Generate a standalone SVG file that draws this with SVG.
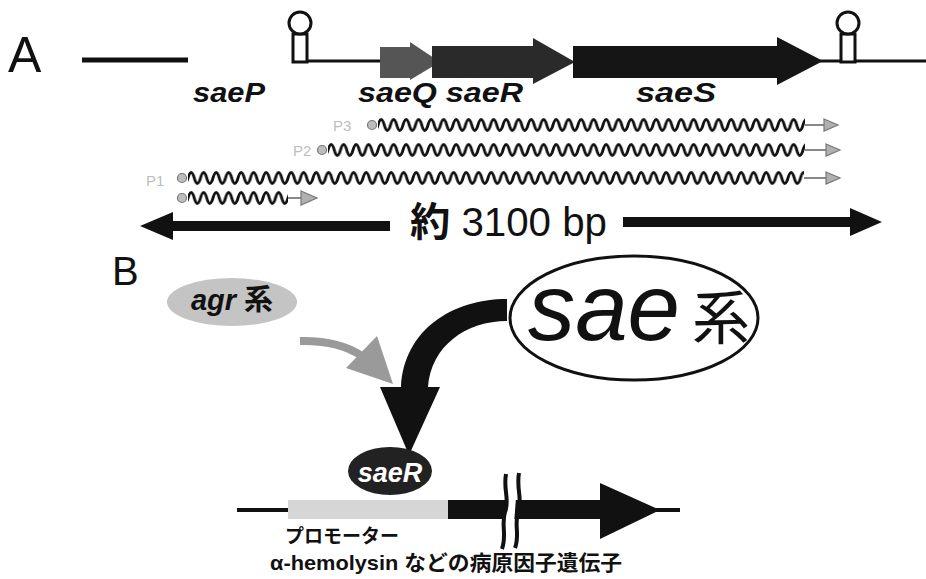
<svg xmlns="http://www.w3.org/2000/svg" width="926" height="579" viewBox="0 0 926 579">
<style>
.lbl{font-family:"Liberation Sans",Arial,sans-serif;}
.gene{font-family:"Liberation Sans",Arial,sans-serif;font-weight:bold;font-style:italic;font-size:27px;fill:#111;}
.cjk{font-family:"Liberation Sans","Noto Sans CJK JP",sans-serif;font-weight:bold;}
.pl{font-family:"Liberation Sans",Arial,sans-serif;font-size:15px;fill:#bdbdbd;}
.dna{stroke:#111;fill:none;}
.term{stroke:#111;stroke-width:3;fill:#fff;}
.tip{fill:#b0b0b0;stroke:#777;stroke-width:1.2;}
.dot{fill:#bdbdbd;stroke:#777;stroke-width:1.2;}
.tl{stroke:#888;stroke-width:2;}
</style>
<defs>
<pattern id="wv" width="12.5" height="14" patternUnits="userSpaceOnUse">
<path d="M-6.25 7 Q-3.125 18 0 7 Q3.125 -4 6.25 7 Q9.375 18 12.5 7 Q15.625 -4 18.75 7" fill="none" stroke="#111" stroke-width="2.8"/>
</pattern>
</defs>
<rect width="926" height="579" fill="#fff"/>

<!-- Panel A -->
<g id="panelA">
<text class="lbl" x="8" y="72" font-size="50" fill="#111">A</text>
<line class="dna" x1="82" y1="60" x2="188" y2="60" stroke-width="5"/>
<line class="dna" x1="300" y1="61" x2="382" y2="61" stroke-width="3"/>
<line class="dna" x1="820" y1="61" x2="926" y2="61" stroke-width="3"/>
<g id="term1">
<rect class="term" x="293" y="34" width="14" height="28"/>
<circle class="term" cx="300" cy="23" r="11"/>
</g>
<g id="term2">
<rect class="term" x="841" y="34" width="14" height="28"/>
<circle class="term" cx="848" cy="23" r="11"/>
</g>
<g id="saeQ"><polygon points="380,47 410,47 410,42 440,62 410,80 410,78 380,78" fill="#555"/></g>
<g id="saeR"><polygon points="432,46 533,46 533,38 575,62 533,84 533,78 432,78" fill="#2a2a2a"/></g>
<g id="saeS"><polygon points="573,46 777,46 777,37 823,61 777,85 777,78 573,78" fill="#151515"/></g>
<text class="gene" x="193" y="102" textLength="72" lengthAdjust="spacingAndGlyphs">saeP</text>
<text class="gene" x="358" y="102" textLength="165" lengthAdjust="spacingAndGlyphs">saeQ saeR</text>
<text class="gene" x="636" y="102" textLength="80" lengthAdjust="spacingAndGlyphs">saeS</text>

<!-- transcripts -->
<g id="P3">
<text class="pl" x="333" y="131">P3</text>
<circle class="dot" cx="372" cy="125" r="4.5"/>
<g transform="translate(378,118)"><rect width="427" height="14" fill="url(#wv)"/></g>
<line class="tl" x1="805" y1="125" x2="826" y2="125"/>
<polygon class="tip" points="824,119 838,125 824,131"/>
</g>
<g id="P2">
<text class="pl" x="293" y="156">P2</text>
<circle class="dot" cx="322" cy="150" r="4.5"/>
<g transform="translate(328,143)"><rect width="477" height="14" fill="url(#wv)"/></g>
<line class="tl" x1="805" y1="150" x2="828" y2="150"/>
<polygon class="tip" points="826,144 840,150 826,156"/>
</g>
<g id="P1">
<text class="pl" x="146" y="186" font-size="13">P1</text>
<circle class="dot" cx="182" cy="178" r="4.5"/>
<circle class="dot" cx="182" cy="198" r="4.5"/>
<g transform="translate(188,171)"><rect width="616" height="14" fill="url(#wv)"/></g>
<line class="tl" x1="804" y1="178" x2="828" y2="178"/>
<polygon class="tip" points="826,172 840,178 826,184"/>
<g transform="translate(188,191)"><rect width="100" height="14" fill="url(#wv)"/></g>
<line class="tl" x1="288" y1="198" x2="305" y2="198"/>
<polygon class="tip" points="301,191 317,198 301,205"/>
</g>

<g id="length">
<polygon points="140,226 173,212 173,221 390,221 390,231 173,231 173,240" fill="#111"/>
<polygon points="623,217 850,217 850,208 882,222 850,236 850,227 623,227" fill="#111"/>
<text x="410" y="236" font-size="40" fill="#111" font-family="'Liberation Sans','Noto Sans CJK JP',sans-serif" textLength="197" lengthAdjust="spacingAndGlyphs"><tspan font-weight="bold">約</tspan> 3100 bp</text>
</g>
</g>

<!-- Panel B -->
<g id="panelB">
<text class="lbl" x="112" y="285" font-size="40" fill="#111">B</text>

<g id="agr">
<ellipse cx="232" cy="302" rx="65" ry="24" fill="#c4c4c4"/>
<text class="cjk" x="232" y="310" font-size="29" text-anchor="middle" fill="#111"><tspan font-style="italic">agr</tspan> 系</text>
</g>

<g id="sae">
<ellipse cx="634" cy="318" rx="124" ry="62" fill="#fff" stroke="#111" stroke-width="3"/>
<text class="lbl" x="528" y="340" font-size="95" font-style="italic" fill="#111" textLength="152" lengthAdjust="spacingAndGlyphs">sae</text>
<text x="692" y="339" font-size="58" fill="#111" font-family="'Noto Sans CJK JP',sans-serif">系</text>
</g>

<g id="connectors">
<path d="M300 341 Q338 340 362 356" fill="none" stroke="#9a9a9a" stroke-width="8"/>
<polygon points="377,336 346,368 393,384" fill="#9a9a9a"/>
<path d="M507 299 C452 299 404 330 401 387 L380 387 L409 455 L440 387 L428 387 C431 346 466 321 507 321 Z" fill="#111"/>
</g>

<g id="gene">
<line class="dna" x1="237" y1="510" x2="680" y2="510" stroke-width="4"/>
<rect id="promoter" x="288" y="500" width="160" height="19" fill="#d6d6d6"/>
<polygon points="448,500 600,500 600,483 660,510 600,539 600,519 448,519" fill="#111"/>
<polygon points="509,472 518,472 512,550 503,550" fill="#fff"/>
<path d="M506 474 C503 490 510 500 505 512 C501 525 507 535 502 549" fill="none" stroke="#111" stroke-width="4"/>
<path d="M519 473 C516 489 523 500 518 512 C514 525 520 535 515 548" fill="none" stroke="#111" stroke-width="4"/>
</g>

<g id="saeRnode">
<ellipse cx="390" cy="471" rx="42" ry="24" fill="#222"/>
<text class="gene" x="390" y="482" font-size="29" text-anchor="middle" style="fill:#fff">saeR</text>
</g>

<text class="cjk" x="285" y="543" font-size="19" fill="#111" textLength="114" lengthAdjust="spacingAndGlyphs">プロモーター</text>
<text class="cjk" x="270" y="570" font-size="21" fill="#111" textLength="352" lengthAdjust="spacingAndGlyphs">α-hemolysin などの病原因子遺伝子</text>
</g>
</svg>
